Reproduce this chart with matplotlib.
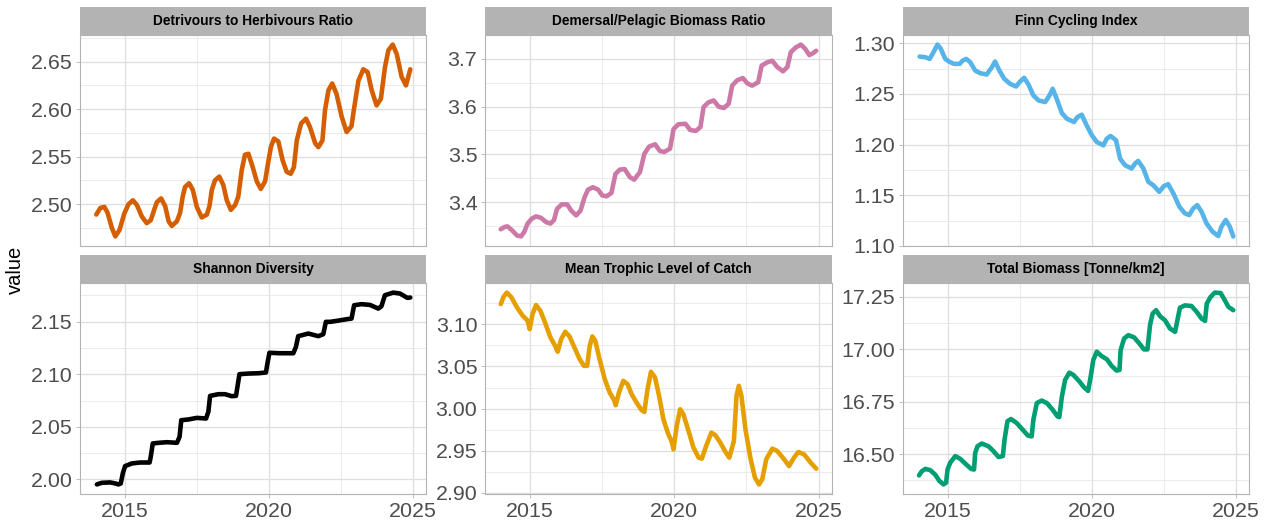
import matplotlib
matplotlib.use("Agg")
import matplotlib.pyplot as plt
from matplotlib.ticker import MultipleLocator, FormatStrFormatter

plt.rcParams["font.family"] = ["Liberation Sans", "DejaVu Sans"]

# --- indicator series (decimal year, value) ---------------------------------
detr_t = [2014.02, 2014.16, 2014.30, 2014.41, 2014.56, 2014.68, 2014.83, 2014.99,
          2015.14, 2015.29, 2015.43, 2015.60, 2015.77, 2015.91, 2016.03, 2016.12,
          2016.27, 2016.41, 2016.53, 2016.64, 2016.82, 2016.93, 2017.02, 2017.10,
          2017.24, 2017.37, 2017.51, 2017.68, 2017.86, 2017.95, 2018.03, 2018.14,
          2018.29, 2018.43, 2018.55, 2018.69, 2018.84, 2018.95, 2019.07, 2019.18,
          2019.30, 2019.45, 2019.59, 2019.73, 2019.88, 2019.96, 2020.08, 2020.19,
          2020.34, 2020.49, 2020.63, 2020.77, 2020.88, 2020.98, 2021.13, 2021.30,
          2021.44, 2021.62, 2021.73, 2021.87, 2021.96, 2022.08, 2022.21, 2022.36,
          2022.54, 2022.71, 2022.88, 2022.96, 2023.12, 2023.29, 2023.44, 2023.58,
          2023.75, 2023.90, 2024.04, 2024.16, 2024.31, 2024.45, 2024.62, 2024.77,
          2024.92]
detr_v = [2.489, 2.496, 2.497, 2.491, 2.475, 2.466, 2.473, 2.490,
          2.500, 2.504, 2.499, 2.487, 2.480, 2.483, 2.494, 2.502,
          2.506, 2.498, 2.482, 2.477, 2.482, 2.491, 2.508, 2.518,
          2.522, 2.515, 2.497, 2.486, 2.489, 2.498, 2.515, 2.525,
          2.529, 2.520, 2.504, 2.494, 2.499, 2.508, 2.536, 2.552,
          2.553, 2.539, 2.524, 2.516, 2.524, 2.539, 2.560, 2.569,
          2.566, 2.546, 2.534, 2.532, 2.539, 2.567, 2.585, 2.590,
          2.581, 2.564, 2.560, 2.567, 2.599, 2.620, 2.627, 2.616,
          2.592, 2.576, 2.582, 2.599, 2.630, 2.642, 2.639, 2.620,
          2.604, 2.611, 2.644, 2.662, 2.668, 2.658, 2.634, 2.625,
          2.642]

dem_t = [2014.00, 2014.14, 2014.23, 2014.37, 2014.56, 2014.70, 2014.81, 2014.93,
         2015.07, 2015.22, 2015.39, 2015.57, 2015.72, 2015.84, 2015.95, 2016.11,
         2016.30, 2016.44, 2016.61, 2016.76, 2016.90, 2017.02, 2017.19, 2017.37,
         2017.51, 2017.66, 2017.83, 2017.97, 2018.12, 2018.29, 2018.47, 2018.62,
         2018.82, 2018.97, 2019.13, 2019.34, 2019.51, 2019.66, 2019.86, 2019.98,
         2020.15, 2020.39, 2020.56, 2020.75, 2020.91, 2021.02, 2021.19, 2021.37,
         2021.54, 2021.72, 2021.89, 2022.01, 2022.18, 2022.38, 2022.53, 2022.70,
         2022.91, 2023.03, 2023.23, 2023.40, 2023.57, 2023.77, 2023.92, 2024.04,
         2024.21, 2024.39, 2024.54, 2024.68, 2024.81, 2024.92]
dem_v = [3.343, 3.348, 3.349, 3.342, 3.330, 3.328, 3.337, 3.355,
         3.365, 3.370, 3.367, 3.358, 3.355, 3.362, 3.386, 3.395,
         3.395, 3.382, 3.372, 3.382, 3.410, 3.426, 3.431, 3.426,
         3.414, 3.412, 3.419, 3.459, 3.468, 3.469, 3.452, 3.447,
         3.463, 3.501, 3.516, 3.521, 3.507, 3.505, 3.512, 3.553,
         3.563, 3.564, 3.551, 3.549, 3.557, 3.599, 3.609, 3.613,
         3.600, 3.597, 3.606, 3.644, 3.655, 3.660, 3.649, 3.644,
         3.651, 3.686, 3.693, 3.696, 3.683, 3.674, 3.683, 3.714,
         3.724, 3.730, 3.721, 3.708, 3.712, 3.717]

finn_t = [2014.03, 2014.23, 2014.38, 2014.51, 2014.65, 2014.77, 2014.92, 2015.07,
          2015.23, 2015.42, 2015.53, 2015.65, 2015.79, 2015.96, 2016.13, 2016.36,
          2016.54, 2016.65, 2016.80, 2016.97, 2017.17, 2017.38, 2017.52, 2017.66,
          2017.81, 2017.98, 2018.16, 2018.39, 2018.54, 2018.65, 2018.79, 2018.97,
          2019.14, 2019.39, 2019.51, 2019.66, 2019.83, 2020.01, 2020.18, 2020.41,
          2020.53, 2020.66, 2020.85, 2020.99, 2021.16, 2021.39, 2021.51, 2021.62,
          2021.80, 2021.97, 2022.14, 2022.35, 2022.51, 2022.66, 2022.84, 2023.05,
          2023.24, 2023.39, 2023.53, 2023.67, 2023.82, 2023.99, 2024.20, 2024.40,
          2024.51, 2024.66, 2024.80, 2024.92]
finn_v = [1.2869, 1.2862, 1.2846, 1.2911, 1.2987, 1.2944, 1.2846, 1.2816,
          1.2797, 1.2797, 1.2830, 1.2846, 1.2813, 1.2731, 1.2705, 1.2692,
          1.2764, 1.2820, 1.2731, 1.2649, 1.2600, 1.2574, 1.2623, 1.2659,
          1.2593, 1.2485, 1.2436, 1.2420, 1.2485, 1.2551, 1.2452, 1.2311,
          1.2256, 1.2223, 1.2272, 1.2295, 1.2190, 1.2092, 1.2026, 1.1993,
          1.2059, 1.2085, 1.2043, 1.1862, 1.1797, 1.1764, 1.1813, 1.1839,
          1.1764, 1.1633, 1.1600, 1.1534, 1.1590, 1.1610, 1.1518, 1.1387,
          1.1321, 1.1305, 1.1370, 1.1403, 1.1338, 1.1223, 1.1141, 1.1098,
          1.1190, 1.1256, 1.1190, 1.1094]

shan_t = [2014.04, 2014.21, 2014.50, 2014.68, 2014.79, 2014.87, 2014.94, 2015.02,
          2015.25, 2015.54, 2015.87, 2015.91, 2015.98, 2016.18, 2016.47, 2016.82,
          2016.91, 2016.97, 2017.22, 2017.51, 2017.83, 2017.91, 2017.97, 2018.26,
          2018.49, 2018.72, 2018.87, 2018.92, 2018.99, 2019.30, 2019.65, 2019.91,
          2019.96, 2020.03, 2020.40, 2020.86, 2020.95, 2021.03, 2021.38, 2021.73,
          2021.90, 2021.99, 2022.13, 2022.36, 2022.71, 2022.88, 2022.97, 2023.23,
          2023.52, 2023.81, 2023.92, 2024.04, 2024.33, 2024.56, 2024.82, 2024.92]
shan_v = [1.9953, 1.9968, 1.9972, 1.9962, 1.9953, 1.9962, 2.0057, 2.0127,
          2.0152, 2.0161, 2.0161, 2.0215, 2.0342, 2.0348, 2.0354, 2.0348,
          2.0405, 2.0563, 2.0570, 2.0585, 2.0579, 2.0642, 2.0794, 2.0810,
          2.0810, 2.0791, 2.0794, 2.0880, 2.1000, 2.1006, 2.1009, 2.1016,
          2.1101, 2.1203, 2.1199, 2.1199, 2.1259, 2.1361, 2.1386, 2.1361,
          2.1380, 2.1497, 2.1497, 2.1506, 2.1522, 2.1528, 2.1655, 2.1665,
          2.1658, 2.1623, 2.1646, 2.1750, 2.1775, 2.1766, 2.1725, 2.1728]

mtl_t = [2014.00, 2014.10, 2014.21, 2014.37, 2014.56, 2014.76, 2014.93, 2015.00,
         2015.10, 2015.22, 2015.37, 2015.53, 2015.72, 2015.88, 2015.97, 2016.09,
         2016.23, 2016.38, 2016.55, 2016.73, 2016.88, 2016.99, 2017.08, 2017.17,
         2017.27, 2017.42, 2017.60, 2017.77, 2017.92, 2017.98, 2018.09, 2018.24,
         2018.39, 2018.53, 2018.70, 2018.87, 2018.97, 2019.08, 2019.20, 2019.34,
         2019.48, 2019.63, 2019.78, 2019.92, 2019.98, 2020.09, 2020.21, 2020.32,
         2020.50, 2020.67, 2020.85, 2020.96, 2021.11, 2021.29, 2021.43, 2021.60,
         2021.78, 2021.91, 2022.07, 2022.16, 2022.24, 2022.33, 2022.47, 2022.65,
         2022.80, 2022.94, 2023.05, 2023.19, 2023.40, 2023.57, 2023.81, 2023.98,
         2024.15, 2024.30, 2024.50, 2024.73, 2024.92]
mtl_v = [3.1242, 3.1330, 3.1378, 3.1321, 3.1202, 3.1103, 3.1044, 3.0944,
         3.1123, 3.1230, 3.1163, 3.1024, 3.0845, 3.0746, 3.0675, 3.0825,
         3.0913, 3.0857, 3.0726, 3.0587, 3.0508, 3.0508, 3.0746, 3.0857,
         3.0806, 3.0587, 3.0349, 3.0190, 3.0103, 3.0040, 3.0190, 3.0329,
         3.0290, 3.0171, 3.0071, 2.9984, 2.9960, 3.0230, 3.0437, 3.0369,
         3.0151, 2.9873, 2.9714, 2.9603, 2.9516, 2.9794, 2.9992, 2.9933,
         2.9734, 2.9536, 2.9417, 2.9405, 2.9556, 2.9714, 2.9683, 2.9595,
         2.9484, 2.9417, 2.9615, 3.0151, 3.0270, 3.0151, 2.9754, 2.9397,
         2.9179, 2.9099, 2.9159, 2.9397, 2.9524, 2.9496, 2.9397, 2.9317,
         2.9417, 2.9484, 2.9456, 2.9357, 2.9286]

bio_t = [2014.01, 2014.11, 2014.23, 2014.40, 2014.57, 2014.72, 2014.86, 2014.95,
         2015.00, 2015.09, 2015.27, 2015.44, 2015.65, 2015.82, 2015.92, 2015.96,
         2016.04, 2016.19, 2016.42, 2016.60, 2016.77, 2016.92, 2016.98, 2017.08,
         2017.20, 2017.40, 2017.61, 2017.79, 2017.92, 2017.98, 2018.10, 2018.27,
         2018.45, 2018.65, 2018.82, 2018.88, 2018.97, 2019.08, 2019.23, 2019.37,
         2019.58, 2019.73, 2019.88, 2019.97, 2020.06, 2020.18, 2020.35, 2020.53,
         2020.70, 2020.87, 2020.97, 2021.01, 2021.13, 2021.28, 2021.48, 2021.66,
         2021.82, 2021.94, 2022.03, 2022.12, 2022.24, 2022.38, 2022.55, 2022.72,
         2022.90, 2022.98, 2023.07, 2023.24, 2023.47, 2023.65, 2023.82, 2023.94,
         2024.00, 2024.13, 2024.28, 2024.48, 2024.63, 2024.75, 2024.92]
bio_v = [16.399, 16.419, 16.430, 16.424, 16.403, 16.372, 16.356, 16.364,
         16.427, 16.459, 16.491, 16.478, 16.451, 16.430, 16.427, 16.506,
         16.538, 16.551, 16.538, 16.514, 16.487, 16.491, 16.570, 16.657,
         16.668, 16.649, 16.617, 16.589, 16.585, 16.665, 16.744, 16.756,
         16.744, 16.712, 16.680, 16.677, 16.775, 16.854, 16.889, 16.878,
         16.847, 16.820, 16.802, 16.870, 16.949, 16.989, 16.968, 16.953,
         16.921, 16.899, 16.902, 16.997, 17.052, 17.068, 17.057, 17.028,
         17.000, 17.000, 17.116, 17.171, 17.187, 17.158, 17.139, 17.100,
         17.084, 17.139, 17.199, 17.210, 17.207, 17.179, 17.147, 17.136,
         17.218, 17.250, 17.271, 17.269, 17.234, 17.203, 17.187]

titles = ["Detrivours to Herbivours Ratio", "Demersal/Pelagic Biomass Ratio",
          "Finn Cycling Index", "Shannon Diversity",
          "Mean Trophic Level of Catch", "Total Biomass [Tonne/km2]"]
series = [(detr_t, detr_v), (dem_t, dem_v), (finn_t, finn_v),
          (shan_t, shan_v), (mtl_t, mtl_v), (bio_t, bio_v)]
colors = ["#D55E00", "#CC79A7", "#56B4E9", "#000000", "#E69F00", "#009E73"]
y_steps = [0.05, 0.1, 0.05, 0.05, 0.05, 0.25]
y_fmts = ["%.2f", "%.1f", "%.2f", "%.2f", "%.2f", "%.2f"]
x_ticks = [2015, 2020, 2025]

# --- layout (pixels on a 1264 x 525 canvas) ---------------------------------
W, H = 1264, 525
cols = [(80, 426), (485, 832), (903, 1249)]
rows = [(35, 246), (283, 494)]   # plot top / bottom
strip_h = 28

fig = plt.figure(figsize=(W / 100, H / 100), dpi=100)
fig.patch.set_facecolor("white")

all_t = [t for ts, _ in series for t in ts]
t_lo, t_hi = min(all_t), max(all_t)
t_pad = 0.05 * (t_hi - t_lo)

for i, ((ts, vs), title, col, step, fmt) in enumerate(
        zip(series, titles, colors, y_steps, y_fmts)):
    r, c = divmod(i, 3)
    x0, x1 = cols[c]
    top, bot = rows[r]
    ax = fig.add_axes([x0 / W, 1 - bot / H, (x1 - x0) / W, (bot - top) / H])
    ax.plot(ts, vs, color=col, lw=3.3, solid_capstyle="round", solid_joinstyle="round")
    ax.set_xlim(t_lo - t_pad, t_hi + t_pad)
    ax.margins(y=0.05)

    ax.yaxis.set_major_locator(MultipleLocator(step))
    ax.yaxis.set_minor_locator(MultipleLocator(step / 2))
    ax.yaxis.set_major_formatter(FormatStrFormatter(fmt))
    ax.set_xticks(x_ticks)
    ax.xaxis.set_minor_locator(MultipleLocator(2.5))

    ax.grid(which="major", color="#DEDEDE", lw=0.9)
    ax.grid(which="minor", color="#E8E8E8", lw=0.6)
    ax.set_axisbelow(True)
    for sp in ax.spines.values():
        sp.set_color("#B3B3B3")
        sp.set_linewidth(0.8)

    ax.tick_params(which="major", length=3, width=0.6, color="#B3B3B3",
                   labelsize=15.4, labelcolor="#4D4D4D", pad=2.5)
    ax.tick_params(which="minor", length=0)
    if r == 0:
        ax.tick_params(axis="x", which="both", length=0, labelbottom=False)

    # facet strip
    sax = fig.add_axes([x0 / W, 1 - top / H, (x1 - x0) / W, strip_h / H])
    sax.set_facecolor("#B3B3B3")
    sax.set_xticks([])
    sax.set_yticks([])
    for sp in sax.spines.values():
        sp.set_visible(False)
    sax.text(0.5, 0.5, title, ha="center", va="center", fontsize=9.9,
             fontweight="bold", color="black", transform=sax.transAxes)

fig.text(15 / W, 1 - 270 / H, "value", rotation=90, ha="center", va="center",
         fontsize=14.5, color="black")

fig.savefig("out.png", dpi=100)
